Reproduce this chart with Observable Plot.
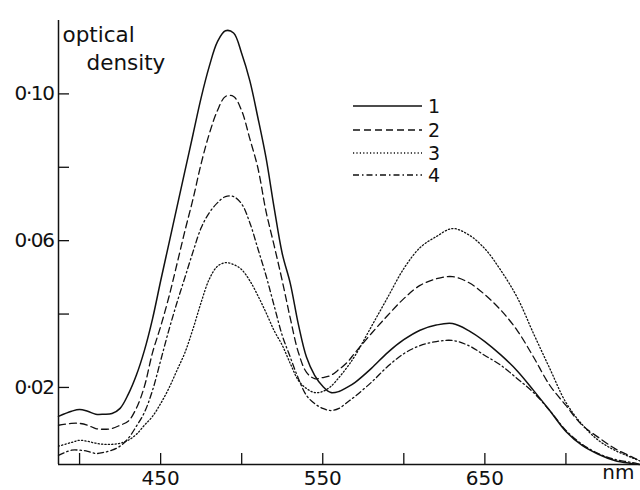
<!DOCTYPE html>
<html>
<head>
<meta charset="utf-8">
<script src="https://cdn.jsdelivr.net/npm/d3@7"></script>
<script src="https://cdn.jsdelivr.net/npm/@observablehq/plot@0.6"></script>
<style>
  body { margin: 0; background: #fff; }
  #wrap { position: relative; width: 640px; height: 490px; }
  #legend { position: absolute; left: 0; top: 0; pointer-events: none; }
  g[aria-label="y-axis tick label"] text { letter-spacing: -1.4px; }
</style>
</head>
<body>
<div id="wrap"></div>
<script>
// wavelength grid (nm)
const wavelengths = [387, 395, 400, 405, 410, 415, 420, 425, 430, 435, 440, 445, 450, 455, 460, 465, 470, 475, 480, 485,
  490, 495, 500, 505, 510, 515, 520, 525, 530, 535, 540, 545, 550, 555, 560, 565, 570, 580, 590, 600,
  610, 620, 630, 640, 650, 660, 670, 680, 690, 700, 710, 720, 730, 740, 746];

// optical density, curve 1 (solid)
const series1 = [0.0121, 0.0135, 0.0140, 0.0135, 0.0127, 0.0127, 0.0129, 0.0143, 0.0181, 0.0233, 0.0301, 0.0387, 0.0490, 0.0590, 0.0690, 0.0790, 0.0890, 0.0990, 0.1075, 0.1142,
  0.1172, 0.1166, 0.1110, 0.1036, 0.0935, 0.0826, 0.0690, 0.0565, 0.0483, 0.0371, 0.0282, 0.0233, 0.0203, 0.0186, 0.0189, 0.0200, 0.0214, 0.0252, 0.0295, 0.0330,
  0.0356, 0.0370, 0.0374, 0.0355, 0.0325, 0.0288, 0.0245, 0.0192, 0.0137, 0.0080, 0.0042, 0.0018, 0.0001, -0.0007, -0.0010];

// curve 2 (dashed)
const series2 = [0.0097, 0.0102, 0.0102, 0.0097, 0.0088, 0.0086, 0.0088, 0.0097, 0.0108, 0.0143, 0.0203, 0.0295, 0.0366, 0.0445, 0.0535, 0.0627, 0.0714, 0.0810, 0.0891, 0.0954,
  0.0993, 0.0993, 0.0954, 0.0878, 0.0798, 0.0680, 0.0587, 0.0491, 0.0388, 0.0295, 0.0241, 0.0224, 0.0227, 0.0233, 0.0249, 0.0268, 0.0295, 0.0347, 0.0396, 0.0442,
  0.0478, 0.0496, 0.0502, 0.0486, 0.0453, 0.0410, 0.0355, 0.0283, 0.0206, 0.0151, 0.0097, 0.0064, 0.0034, 0.0012, -0.0001];

// curve 3 (dotted)
const series3 = [0.0040, 0.0050, 0.0056, 0.0053, 0.0048, 0.0045, 0.0045, 0.0048, 0.0056, 0.0072, 0.0097, 0.0121, 0.0156, 0.0197, 0.0246, 0.0295, 0.0360, 0.0432, 0.0495, 0.0530,
  0.0540, 0.0535, 0.0521, 0.0491, 0.0450, 0.0404, 0.0355, 0.0315, 0.0265, 0.0219, 0.0197, 0.0186, 0.0189, 0.0203, 0.0227, 0.0255, 0.0287, 0.0366, 0.0445, 0.0524,
  0.0581, 0.0611, 0.0633, 0.0616, 0.0578, 0.0518, 0.0445, 0.0347, 0.0252, 0.0159, 0.0099, 0.0056, 0.0029, 0.0010, -0.0001];

// curve 4 (dash-dot)
const series4 = [0.0015, 0.0029, 0.0029, 0.0026, 0.0020, 0.0023, 0.0029, 0.0040, 0.0061, 0.0094, 0.0132, 0.0192, 0.0273, 0.0355, 0.0430, 0.0500, 0.0570, 0.0635, 0.0676, 0.0703,
  0.0720, 0.0720, 0.0700, 0.0649, 0.0578, 0.0505, 0.0423, 0.0342, 0.0282, 0.0224, 0.0178, 0.0156, 0.0143, 0.0137, 0.0143, 0.0159, 0.0176, 0.0214, 0.0257, 0.0292,
  0.0314, 0.0325, 0.0328, 0.0314, 0.0287, 0.0260, 0.0224, 0.0186, 0.0137, 0.0083, 0.0045, 0.0020, 0.0004, -0.0004, -0.0010];

const seriesNames = ["1", "2", "3", "4"];
const seriesValues = [series1, series2, series3, series4];
const dashPatterns = [null, "7,4", "1.2,2.2", "6,3,1.5,3"];

const xTicks = [400, 450, 500, 550, 600, 650, 700];
const xTickLabels = [450, 550, 650];
const yTicks = [0.02, 0.04, 0.06, 0.08, 0.10];
const yTickLabels = [0.02, 0.06, 0.10];
const xDomain = [387, 746];
const yDomain = [-0.001, 0.12];
const yTitle = ["optical", "density"];
const xUnit = "nm";

const rows = seriesNames.flatMap((name, i) =>
  wavelengths.map((nm, j) => ({ series: name, nm, od: seriesValues[i][j] })));

const ink = "#111";
const font = "'DejaVu Sans', sans-serif";

const lineMarks = seriesNames.map((name, i) =>
  Plot.line(rows.filter(r => r.series === name), {
    x: "nm", y: "od", curve: "catmull-rom",
    stroke: ink, strokeWidth: i === 0 ? 1.5 : 1.3,
    strokeDasharray: dashPatterns[i] ?? undefined
  }));

const chart = Plot.plot({
  width: 640, height: 490,
  marginLeft: 58, marginRight: 0, marginTop: 20, marginBottom: 26,
  x: { domain: xDomain },
  y: { domain: yDomain },
  style: { fontFamily: font, fontSize: "20px", color: ink, background: "white", overflow: "visible" },
  marks: [
    Plot.ruleX([xDomain[0]], { stroke: ink, strokeWidth: 1.5 }),
    Plot.ruleY([yDomain[0]], { stroke: ink, strokeWidth: 1.6 }),
    Plot.axisX({ ticks: xTicks, tickSize: 11, dy: -11, tickFormat: () => "", label: null, strokeWidth: 1.3 }),
    Plot.axisX({ ticks: xTickLabels, tickSize: 0, tickPadding: 6, label: null, fontSize: 20 }),
    Plot.axisY({ ticks: yTicks, tickSize: 11, dx: 11, tickFormat: () => "", label: null, strokeWidth: 1.3 }),
    Plot.axisY({ ticks: yTickLabels, tickSize: 0, tickPadding: 5, label: null, fontSize: 20,
      tickFormat: d => "0·" + String(Math.round(d * 100)).padStart(2, "0") }),
    Plot.text([yTitle[0]], { text: d => d, frameAnchor: "top-left", dx: 4, dy: 6, textAnchor: "start", fontSize: 21.5 }),
    Plot.text([yTitle[1]], { text: d => d, frameAnchor: "top-left", dx: 28, dy: 34, textAnchor: "start", fontSize: 21.5 }),
    Plot.text([xUnit], { text: d => d, frameAnchor: "bottom-right", dx: -6, dy: 14, textAnchor: "end", fontSize: 20 }),
    ...lineMarks
  ]
});

const wrap = document.getElementById("wrap");
wrap.appendChild(chart);

// legend overlay
const legend = d3.select(wrap).append("svg")
  .attr("id", "legend").attr("width", 640).attr("height", 490);
const legX0 = 353, legX1 = 422, legYs = [106, 130, 153, 175];
seriesNames.forEach((name, i) => {
  legend.append("line")
    .attr("x1", legX0).attr("x2", legX1).attr("y1", legYs[i]).attr("y2", legYs[i])
    .attr("stroke", ink).attr("stroke-width", i === 0 ? 1.6 : 1.4)
    .attr("stroke-dasharray", dashPatterns[i]);
  legend.append("text")
    .attr("x", 428).attr("y", legYs[i]).attr("dy", "0.36em")
    .attr("font-family", font).attr("font-size", 19).attr("fill", ink)
    .text(name);
});
</script>
</body>
</html>
